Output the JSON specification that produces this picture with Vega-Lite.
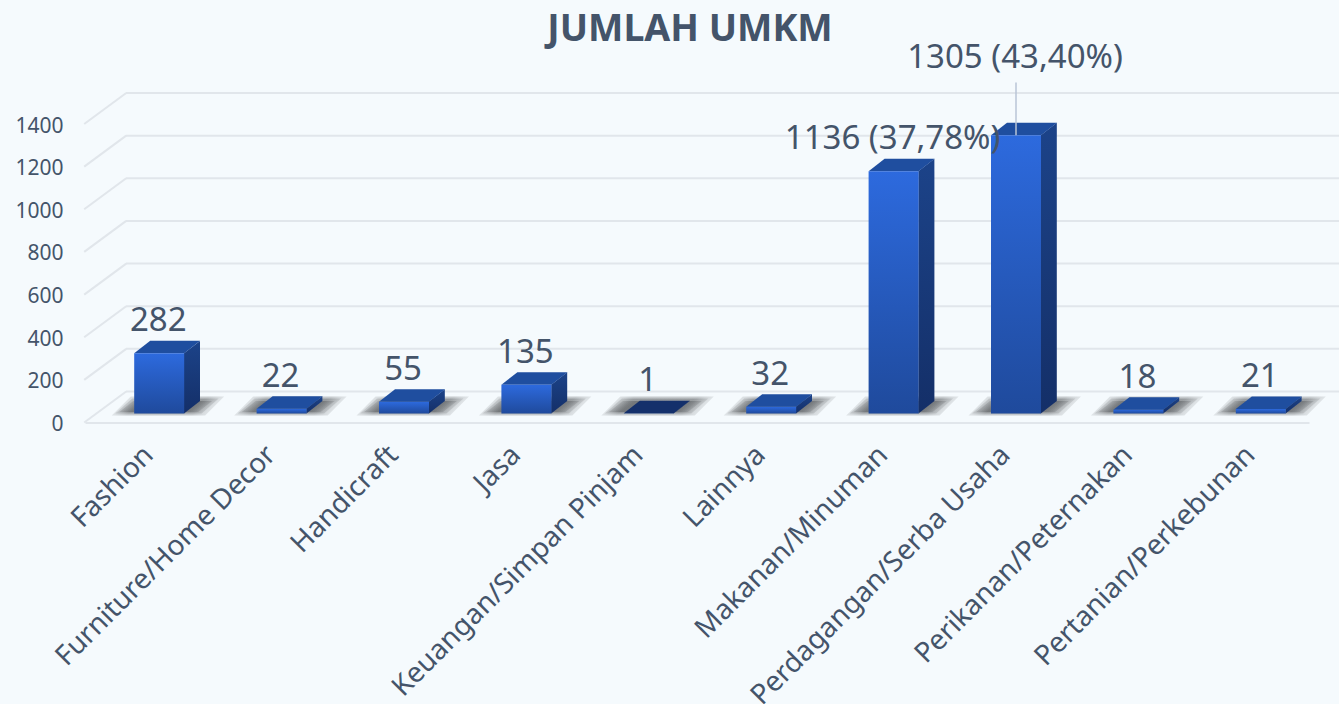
{
"$schema":"https://vega.github.io/schema/vega-lite/v6.json",
"width":1224,"height":298.5,
"autosize":"none",
"padding":{"left":85,"top":124,"right":30,"bottom":281.5},
"background":"#f5fafd",
"view":{"stroke":null},
"title":{"text":"JUMLAH UMKM","font":"Noto Sans","fontSize":37.5,"fontWeight":"bold","color":"#44546a","anchor":"middle","dx":-7,"offset":-7},
"datasets":{
"bars":[
{"kategori":"Fashion","jumlah":282,"label":"282"},
{"kategori":"Furniture/Home Decor","jumlah":22,"label":"22"},
{"kategori":"Handicraft","jumlah":55,"label":"55"},
{"kategori":"Jasa","jumlah":135,"label":"135"},
{"kategori":"Keuangan/Simpan Pinjam","jumlah":1,"label":"1"},
{"kategori":"Lainnya","jumlah":32,"label":"32"},
{"kategori":"Makanan/Minuman","jumlah":1136,"label":"1136 (37,78%)"},
{"kategori":"Perdagangan/Serba Usaha","jumlah":1305,"label":"1305 (43,40%)"},
{"kategori":"Perikanan/Peternakan","jumlah":18,"label":"18"},
{"kategori":"Pertanian/Perkebunan","jumlah":21,"label":"21"}],
"ticks":[{"t":0},{"t":200},{"t":400},{"t":600},{"t":800},{"t":1000},{"t":1200},{"t":1400}]
},
"data":{"name":"bars"},
"encoding":{
"x":{"field":"kategori","type":"nominal","sort":null,"scale":{"paddingInner":0,"paddingOuter":0},
"axis":{"title":null,"labelAngle":-45,"labelAlign":"right","labelBaseline":"middle","labelFont":"Noto Sans","labelFontSize":28,"labelColor":"#44546a","labelPadding":28,"labelOffset":3,"labelLimit":0,"labelOverlap":false,"labelBound":false,"ticks":false,"domain":true,"domainColor":"#e1e6eb","domainWidth":2}}
},
"layer":[
{"data":{"name":"ticks"},"mark":{"type":"rule","color":"#e1e6eb","strokeWidth":2,"xOffset":41,"x2Offset":30,"yOffset":-31},
 "encoding":{"x":{"value":0},"x2":{"value":1224},"y":{"field":"t","type":"quantitative","scale":{"domain":[0,1400],"nice":false},"axis":{"title":null,"values":[0,200,400,600,800,1000,1200,1400],"format":"d","grid":false,"domain":false,"ticks":false,"labelFont":"Noto Sans","labelFontSize":21,"labelColor":"#44546a","labelPadding":22,"labelOffset":2}}}},
{"data":{"name":"ticks"},"mark":{"type":"point","filled":false,"stroke":"#e1e6eb","strokeWidth":2,"opacity":1,"size":10000,"shape":"M -0.42 0.31 L 0.42 -0.31","xOffset":-41,"yOffset":-15.5},
 "encoding":{"x":{"datum":"Fashion"},"y":{"field":"t","type":"quantitative"}}},
{"mark":{"type":"point","filled":true,"opacity":1,"size":10000,"strokeWidth":0,"shape":"M -0.95 0.04 L 0.92 0.04 L 1.3 -0.34 L -0.57 -0.34 Z","xOffset":13,"yOffset":-9,"fill":{"x1":0,"y1":0.42,"x2":1,"y2":0.58,"gradient":"linear","stops":[{"offset":0,"color":"rgba(50,53,56,0)"},{"offset":0.22,"color":"rgba(50,53,56,0.25)"},{"offset":0.78,"color":"rgba(50,53,56,0.25)"},{"offset":1,"color":"rgba(50,53,56,0)"}]}},"encoding":{"x":{"field":"kategori"},"y":{"datum":0,"type":"quantitative"}}},
{"mark":{"type":"point","filled":true,"opacity":1,"size":10000,"strokeWidth":0,"shape":"M -0.88 0 L 0.85 0 L 1.19 -0.3 L -0.54 -0.3 Z","xOffset":13,"yOffset":-9,"fill":{"x1":0,"y1":0.42,"x2":1,"y2":0.58,"gradient":"linear","stops":[{"offset":0,"color":"rgba(50,53,56,0)"},{"offset":0.22,"color":"rgba(50,53,56,0.3)"},{"offset":0.78,"color":"rgba(50,53,56,0.3)"},{"offset":1,"color":"rgba(50,53,56,0)"}]}},"encoding":{"x":{"field":"kategori"},"y":{"datum":0,"type":"quantitative"}}},
{"mark":{"type":"point","filled":true,"opacity":1,"size":10000,"strokeWidth":0,"shape":"M -0.8 -0.03 L 0.78 -0.03 L 1.06 -0.25 L -0.52 -0.25 Z","xOffset":13,"yOffset":-9,"fill":{"x1":0,"y1":0.42,"x2":1,"y2":0.58,"gradient":"linear","stops":[{"offset":0,"color":"rgba(50,53,56,0)"},{"offset":0.22,"color":"rgba(50,53,56,0.35)"},{"offset":0.78,"color":"rgba(50,53,56,0.35)"},{"offset":1,"color":"rgba(50,53,56,0)"}]}},"encoding":{"x":{"field":"kategori"},"y":{"datum":0,"type":"quantitative"}}},
{"transform":[
 {"calculate":"['depan','belakang','belakang','depan']","as":"sisi"},
 {"calculate":"[datum.jumlah,datum.jumlah+58.6,58.6,0]","as":"tinggi"},
 {"calculate":"[1,2,3,4]","as":"urut"},
 {"flatten":["sisi","tinggi","urut"]}],
 "mark":{"type":"line","strokeWidth":0,"yOffset":-9,"fill":{"x1":0,"y1":0,"x2":0,"y2":1,"gradient":"linear","stops":[{"offset":0,"color":"#1c4389"},{"offset":1,"color":"#142f68"}]}},
 "encoding":{"x":{"field":"kategori"},"detail":{"field":"kategori"},"order":{"field":"urut","type":"quantitative"},
 "xOffset":{"field":"sisi","type":"nominal","scale":{"domain":["depan","belakang"],"range":[91,123]},"legend":null},
 "y":{"field":"tinggi","type":"quantitative"}}},
{"mark":{"type":"point","filled":true,"opacity":1,"size":10000,"strokeWidth":0,"shape":"M -0.5 0 L 0.5 0 L 0.82 -0.25 L -0.18 -0.25 Z","xOffset":13,"yOffset":-9},
 "encoding":{"x":{"field":"kategori"},"y":{"field":"jumlah","type":"quantitative"},
 "fill":{"condition":{"test":"datum.jumlah===1","value":"#14306b"},"value":"#1f4e9f"}}},
{"mark":{"type":"bar","width":50,"xOffset":13,"yOffset":-9,"y2Offset":-9,"fill":{"x1":0,"y1":0,"x2":0,"y2":1,"gradient":"linear","stops":[{"offset":0,"color":"#2d6ade"},{"offset":1,"color":"#1f4a9c"}]}},
 "encoding":{"x":{"field":"kategori"},"y":{"field":"jumlah","type":"quantitative"},"y2":{"datum":0}}},
{"transform":[{"filter":"datum.jumlah===1305"}],"mark":{"type":"rule","color":"#b8c4d6","strokeWidth":1.5,"xOffset":13,"yOffset":-9,"y2Offset":-9},
 "encoding":{"x":{"field":"kategori"},"y":{"field":"jumlah","type":"quantitative"},"y2":{"datum":1553}}},
{"transform":[{"filter":"datum.jumlah!==1305"}],"mark":{"type":"text","font":"Noto Sans","fontSize":33,"color":"#44546a","baseline":"alphabetic","xOffset":12,"yOffset":-31},
 "encoding":{"x":{"field":"kategori"},"y":{"field":"jumlah","type":"quantitative"},"text":{"field":"label"}}},
{"transform":[{"filter":"datum.jumlah===1305"}],"mark":{"type":"text","font":"Noto Sans","fontSize":33,"color":"#44546a","baseline":"alphabetic","xOffset":12,"yOffset":-76.6},
 "encoding":{"x":{"field":"kategori"},"y":{"field":"jumlah","type":"quantitative"},"text":{"field":"label"}}}
]
}
